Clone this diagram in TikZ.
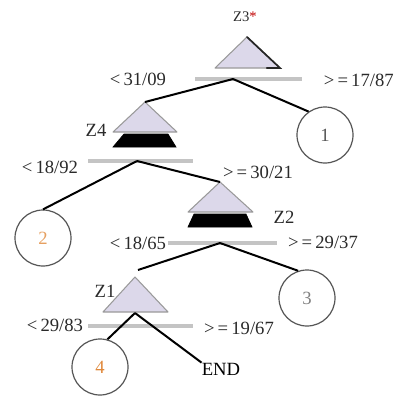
\documentclass[tikz,border=0pt]{standalone}
\usepackage{fontspec}
\setmainfont{Liberation Serif}
\definecolor{lav}{HTML}{DCD8EA}
\definecolor{triedge}{HTML}{9A9A9A}
\definecolor{barcol}{HTML}{C4C4C4}
\definecolor{circcol}{HTML}{555555}
\definecolor{orng}{HTML}{E0883A}
\definecolor{txtcol}{HTML}{2A2A2A}
\tikzset{
  lbl/.style={inner sep=0pt, text=txtcol, font=\fontsize{14}{16}\selectfont},
  zlbl/.style={inner sep=0pt, text=txtcol, font=\fontsize{14}{16}\selectfont},
  leaf/.style={circle, draw=circcol, line width=0.9pt, minimum size=42pt, inner sep=0pt, font=\fontsize{14}{16}\selectfont},
  conn/.style={line width=1.5pt, black},
  splitbar/.style={line width=3pt, barcol},
  tri/.style={fill=lav, draw=triedge, line width=0.8pt, line join=round},
  blk/.style={fill=black, draw=black, line width=0.5pt}
}
\begin{document}
\begin{tikzpicture}[x=0.75pt,y=-0.75pt]
\useasboundingbox (0,0) rectangle (395,397);
% ---------- Z3 ----------
\node[inner sep=0pt, text=txtcol, font=\fontsize{11}{13}\selectfont] (z3l) at (245,17) {Z3\textcolor{red!75!black}{*}};
\coordinate (z3a) at (247,37);
\coordinate (z3bl) at (215,68);
\coordinate (z3br) at (280,68);
\filldraw[tri] (z3a) -- (z3br) -- (z3bl) -- cycle;
\draw[line width=1.3pt, black!85, line cap=round] (z3a) -- (z3br) -- ([xshift=-10]z3br);
\coordinate (b3l) at (195,79);
\coordinate (b3r) at (302,79);
\draw[splitbar] (b3l) -- (b3r);
\coordinate (s3) at (233,79);
\node[lbl] (t31) at (138,79) {<\,31/09};
\node[lbl, anchor=east] (t32) at (394,80) {>\,=\,17/87};
% ---------- leaf 1 ----------
\node[leaf, text=circcol] (c1) at (325,135) {1};
% ---------- Z4 ----------
\coordinate (z4a) at (145,102);
\filldraw[tri] (z4a) -- (177,132) -- (113,132) -- cycle;
\filldraw[blk] (124,134) -- (168,134) -- (176,147) -- (113,147) -- cycle;
\node[zlbl] (z4l) at (96,130) {Z4};
\coordinate (b4l) at (88,161);
\coordinate (b4r) at (193,161);
\draw[splitbar] (b4l) -- (b4r);
\coordinate (s4) at (137,161);
\node[lbl] (t41) at (50,167) {<\,18/92};
\node[lbl] (t42) at (258,172) {>\,=\,30/21};
\draw[conn] (s3) -- (z4a);
\draw[conn] (s3) -- (c1.125);
% ---------- leaf 2 ----------
\node[leaf, text=orng!80] (c2) at (43,238) {2};
% ---------- Z2 ----------
\coordinate (z2a) at (220,182);
\filldraw[tri] (z2a) -- (253,212) -- (188,212) -- cycle;
\filldraw[blk] (194,214) -- (246,214) -- (252,227) -- (188,227) -- cycle;
\node[zlbl] (z2l) at (284,217) {Z2};
\draw[conn] (s4) -- (c2.90);
\draw[conn] (s4) -- (z2a);
\coordinate (b2l) at (168,243);
\coordinate (b2r) at (277,243);
\draw[splitbar] (b2l) -- (b2r);
\coordinate (s2) at (220,243);
\node[lbl] (t21) at (138,243) {<\,18/65};
\node[lbl] (t22) at (323,242) {>\,=\,29/37};
% ---------- leaf 3 ----------
\node[leaf, text=black!50] (c3) at (307,298) {3};
\coordinate (e2) at (138,270);
\draw[conn] (s2) -- (e2);
\draw[conn] (s2) -- (c3.108);
% ---------- Z1 ----------
\coordinate (z1a) at (135,277);
\coordinate (z1b) at (135,313);
\filldraw[tri] (z1a) -- (168,312) -- (103,312) -- cycle;
\node[zlbl] (z1l) at (105,291) {Z1};
\coordinate (b1l) at (88,326);
\coordinate (b1r) at (193,326);
\draw[splitbar] (b1l) -- (b1r);
\node[lbl] (t11) at (55,325) {<\,29/83};
\node[lbl] (t12) at (239,328) {>\,=\,19/67};
% ---------- leaf 4 and END ----------
\node[leaf, text=orng] (c4) at (100,367) {4};
\node[lbl, text=black] (endn) at (221,369) {END};
\draw[conn] (z1b) -- (c4.75);
\draw[conn] (z1b) -- (endn.north west);
\end{tikzpicture}
\end{document}
